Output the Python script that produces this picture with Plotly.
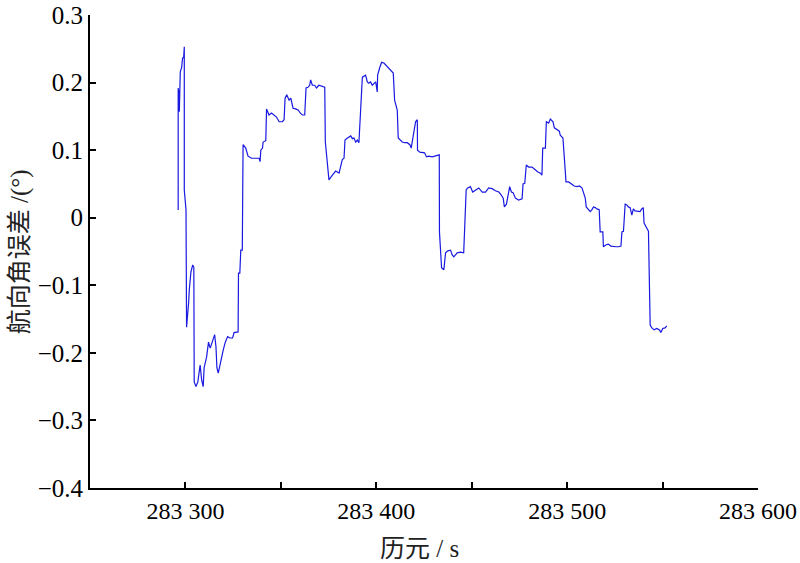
import plotly.graph_objects as go

# Epoch (s) and heading-angle error (deg)
epoch = [
    283296.2, 283296.2, 283296.5, 283296.6, 283296.8, 283297.3, 283298.0, 283298.5, 283299.1, 283299.4,
    283299.4, 283300.3, 283300.6, 283301.7, 283302.0, 283302.9, 283303.8, 283304.4, 283304.6, 283305.5,
    283306.5, 283307.7, 283308.5, 283309.3, 283309.8, 283311.1, 283312.1, 283313.0, 283314.2, 283315.3,
    283316.0, 283316.5, 283317.2, 283318.0, 283318.9, 283319.8, 283320.8, 283322.1, 283323.3, 283324.7,
    283325.5, 283327.6, 283327.8, 283328.5, 283329.0, 283329.8, 283330.2, 283331.6, 283332.8, 283334.6,
    283338.6, 283339.1, 283339.5, 283340.4, 283340.7, 283342.1, 283342.5, 283343.8, 283345.1, 283346.5,
    283347.7, 283349.1, 283350.8, 283351.7, 283352.2, 283353.1, 283354.3, 283355.2, 283356.4, 283357.8,
    283359.2, 283360.1, 283361.3, 283362.5, 283363.2, 283364.2, 283365.1, 283365.6, 283366.5, 283367.7,
    283368.7, 283369.9, 283371.2, 283373.0, 283373.3, 283375.2, 283377.0, 283378.7, 283380.5, 283381.3,
    283382.2, 283383.1, 283383.6, 283384.9, 283386.6, 283387.5, 283388.3, 283389.2, 283390.1, 283390.9,
    283391.4, 283391.8, 283392.7, 283394.4, 283395.3, 283396.1, 283397.0, 283397.9, 283398.8, 283399.7,
    283400.5, 283400.7, 283401.9, 283402.8, 283404.0, 283404.9, 283406.6, 283407.9, 283408.9, 283409.6,
    283411.0, 283411.5, 283412.7, 283413.6, 283414.8, 283416.2, 283417.6, 283418.3, 283419.4, 283420.6,
    283421.5, 283421.6, 283422.8, 283424.1, 283425.3, 283426.3, 283427.5, 283429.3, 283431.0, 283433.0,
    283433.1, 283434.2, 283435.4, 283436.3, 283437.5, 283438.9, 283439.8, 283440.6, 283442.4, 283444.1,
    283445.8, 283447.1, 283447.9, 283449.3, 283450.5, 283452.0, 283453.7, 283455.5, 283457.2, 283458.9,
    283460.7, 283462.4, 283464.2, 283465.4, 283466.5, 283467.1, 283468.2, 283468.9, 283469.9, 283470.8,
    283471.7, 283472.9, 283474.6, 283476.4, 283476.9, 283477.8, 283478.6, 283479.8, 283481.6, 283483.3,
    283484.5, 283486.0, 283486.8, 283487.2, 283488.6, 283489.1, 283490.3, 283491.2, 283492.6, 283493.3,
    283494.7, 283495.9, 283496.4, 283497.8, 283498.5, 283499.4, 283500.8, 283501.7, 283502.5, 283503.7,
    283505.2, 283506.5, 283507.8, 283508.6, 283509.5, 283510.0, 283511.2, 283512.1, 283513.0, 283513.8,
    283514.7, 283515.6, 283516.8, 283517.3, 283518.7, 283519.0, 283520.4, 283521.6, 283522.9, 283524.3,
    283525.7, 283526.9, 283528.2, 283528.7, 283529.5, 283530.4, 283531.3, 283532.1, 283533.0, 283533.9,
    283534.7, 283535.6, 283537.3, 283538.2, 283539.1, 283539.9, 283540.3, 283541.4, 283542.6, 283543.5,
    283544.4, 283545.6, 283547.0, 283548.4, 283549.1, 283550.1, 283551.3, 283552.2,
]
heading_err = [
    0.0115, 0.192, 0.182, 0.189, 0.157, 0.216, 0.222, 0.236, 0.238, 0.253,
    0.041, 0.012, -0.162, -0.125, -0.107, -0.080, -0.070, -0.073, -0.243, -0.250,
    -0.243, -0.218, -0.240, -0.250, -0.222, -0.206, -0.184, -0.193, -0.184, -0.173,
    -0.191, -0.222, -0.230, -0.218, -0.206, -0.196, -0.185, -0.176, -0.178, -0.178,
    -0.170, -0.169, -0.082, -0.082, -0.048, -0.048, 0.108, 0.103, 0.091, 0.088,
    0.088, 0.083, 0.100, 0.103, 0.112, 0.114, 0.161, 0.152, 0.155, 0.152,
    0.149, 0.142, 0.142, 0.145, 0.177, 0.182, 0.174, 0.177, 0.162, 0.161,
    0.159, 0.155, 0.152, 0.152, 0.192, 0.193, 0.196, 0.204, 0.196, 0.196,
    0.192, 0.196, 0.195, 0.193, 0.112, 0.056, 0.063, 0.069, 0.066, 0.074,
    0.086, 0.088, 0.115, 0.118, 0.121, 0.117, 0.118, 0.112, 0.115, 0.111,
    0.145, 0.157, 0.208, 0.211, 0.201, 0.199, 0.201, 0.196, 0.199, 0.201,
    0.186, 0.211, 0.223, 0.230, 0.229, 0.226, 0.222, 0.216, 0.214, 0.174,
    0.159, 0.118, 0.115, 0.112, 0.111, 0.111, 0.108, 0.103, 0.122, 0.142,
    0.145, 0.100, 0.097, 0.096, 0.096, 0.090, 0.091, 0.090, 0.091, 0.093,
    -0.021, -0.074, -0.077, -0.052, -0.049, -0.048, -0.055, -0.058, -0.052, -0.051,
    -0.052, 0.041, 0.044, 0.046, 0.038, 0.041, 0.044, 0.038, 0.038, 0.044,
    0.043, 0.040, 0.038, 0.034, 0.029, 0.016, 0.020, 0.031, 0.046, 0.038,
    0.037, 0.029, 0.026, 0.028, 0.050, 0.051, 0.078, 0.075, 0.075, 0.071,
    0.068, 0.066, 0.063, 0.103, 0.103, 0.142, 0.140, 0.146, 0.142, 0.133,
    0.130, 0.128, 0.122, 0.118, 0.090, 0.053, 0.053, 0.051, 0.049, 0.047,
    0.046, 0.047, 0.044, 0.037, 0.029, 0.016, 0.012, 0.009, 0.012, 0.016,
    0.015, 0.013, 0.012, -0.021, -0.021, -0.043, -0.040, -0.039, -0.042, -0.043,
    -0.043, -0.043, -0.042, -0.021, -0.020, 0.020, 0.019, 0.016, 0.015, 0.004,
    0.013, 0.010, 0.009, 0.009, 0.013, 0.015, -0.008, -0.015, -0.020, -0.159,
    -0.163, -0.166, -0.164, -0.166, -0.170, -0.164, -0.163, -0.160,
]

x_tickvals = [283300, 283400, 283500, 283600]
x_ticktext = ["283 300", "283 400", "283 500", "283 600"]
y_tickvals = [-0.4, -0.3, -0.2, -0.1, 0, 0.1, 0.2, 0.3]
y_ticktext = ["\u22120.4", "\u22120.3", "\u22120.2", "\u22120.1", "0", "0.1", "0.2", "0.3"]
x_title = "历元 / s"
y_title = "航向角误差 /(°)"

fig = go.Figure()
fig.add_trace(go.Scatter(
    x=epoch, y=heading_err, mode="lines",
    line=dict(color="rgb(25,25,225)", width=1.2),
    showlegend=False,
))

xtick_font = dict(family="Liberation Serif, Times New Roman, serif", size=24, color="black")
ytick_font = dict(family="Liberation Serif, Times New Roman, serif", size=25, color="black")
title_font = dict(family="Liberation Serif, Noto Sans CJK SC, serif", size=25, color="#222")

fig.update_layout(
    width=800, height=563,
    margin=dict(l=90, r=42, t=15, b=75, autoexpand=False),
    paper_bgcolor="white", plot_bgcolor="white",
    xaxis=dict(
        range=[283250, 283600],
        tickvals=x_tickvals, ticktext=x_ticktext,
        ticks="inside", ticklen=6, tickwidth=1.5, tickcolor="black",
        minor=dict(ticks="inside", ticklen=6, tickwidth=1.5, tickcolor="black",
                   tick0=283250, dtick=50),
        showline=True, linecolor="black", linewidth=2,
        showgrid=False, zeroline=False, automargin=False,
        tickfont=xtick_font,
    ),
    yaxis=dict(
        range=[-0.4, 0.3],
        tickvals=y_tickvals, ticktext=y_ticktext,
        ticks="inside", ticklen=6, tickwidth=1.5, tickcolor="black",
        showline=True, linecolor="black", linewidth=2,
        showgrid=False, zeroline=False, automargin=False,
        tickfont=ytick_font,
    ),
    annotations=[
        dict(text=x_title, xref="paper", yref="paper", x=0.494, y=-0.127,
             xanchor="center", yanchor="middle", showarrow=False, font=title_font),
        dict(text=y_title, xref="paper", yref="paper", x=-0.1045, y=0.499,
             xanchor="center", yanchor="middle", textangle=-90, showarrow=False,
             font=title_font),
    ],
)

# Remove the default 8px page margin so the 800x563 figure fills the window exactly.
fig.write_html("out.html", config={"displayModeBar": False},
               post_script="document.body.style.margin='0';")
